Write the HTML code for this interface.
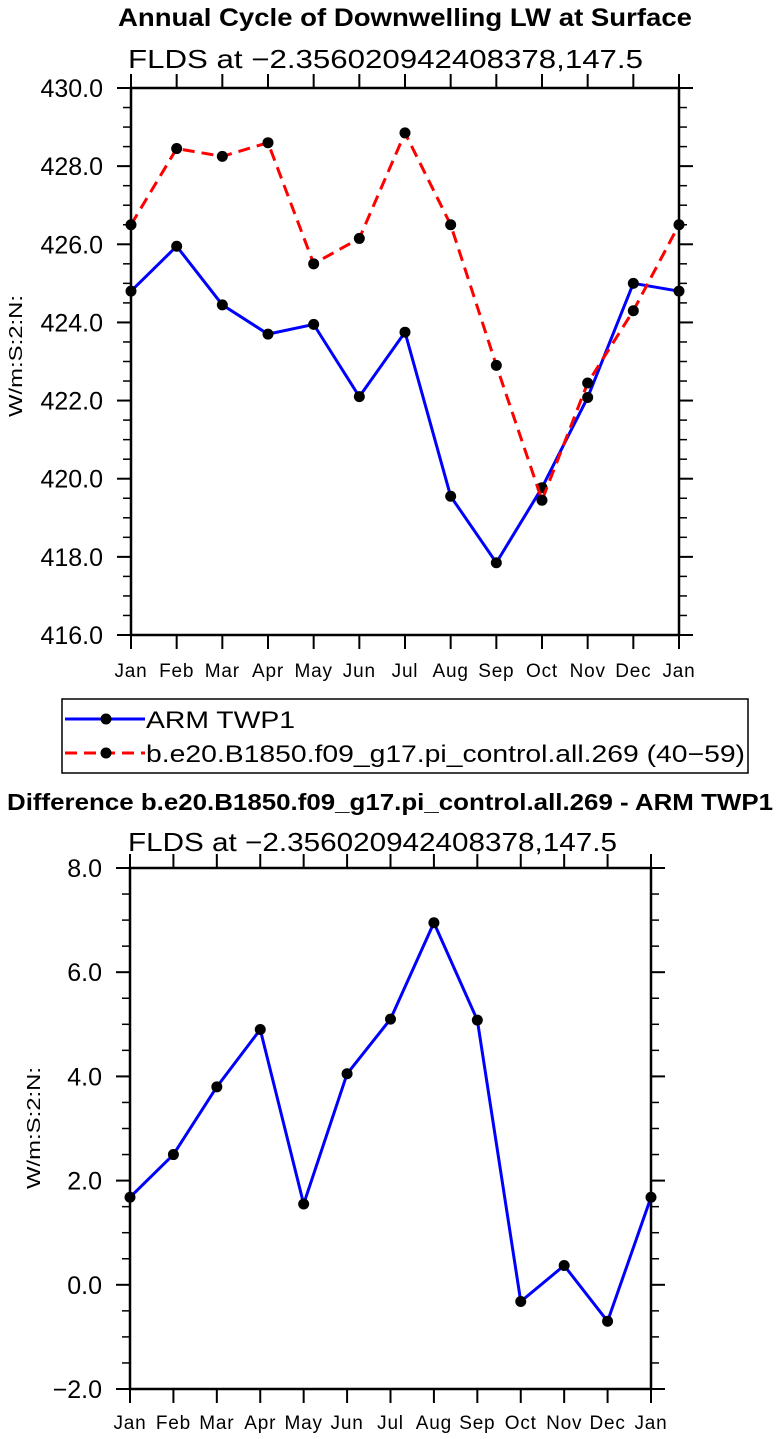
<!DOCTYPE html>
<html><head><meta charset="utf-8"><style>
body{margin:0;background:#fff;}
svg{display:block;font-family:"Liberation Sans","DejaVu Sans",sans-serif;}
</style></head><body>
<svg id="chart" width="780" height="1439" viewBox="0 0 780 1439">
<text x="118" y="26" font-size="25" font-weight="bold" textLength="574" lengthAdjust="spacingAndGlyphs">Annual Cycle of Downwelling LW at Surface</text>
<text x="128" y="68" font-size="26" textLength="515" lengthAdjust="spacingAndGlyphs">FLDS at −2.356020942408378,147.5</text>
<text transform="translate(22,356) rotate(-90)" text-anchor="middle" font-size="18" textLength="122" lengthAdjust="spacingAndGlyphs">W/m:S:2:N:</text>
<g>
<rect x="62" y="699" width="686" height="74" fill="none" stroke="#000" stroke-width="1.5"/>
<g>
<line x1="65" y1="719" x2="145" y2="719" stroke="#0000ff" stroke-width="3"/>
<circle cx="106" cy="719" r="5.5" fill="#000"/>
<text x="146" y="728" font-size="24" textLength="149" lengthAdjust="spacingAndGlyphs">ARM TWP1</text></g>
<g>
<line x1="65" y1="753" x2="145" y2="753" stroke="#ff0000" stroke-width="3" stroke-dasharray="12,7"/>
<circle cx="106" cy="753" r="5.5" fill="#000"/>
<text x="146" y="762" font-size="24" textLength="599" lengthAdjust="spacingAndGlyphs">b.e20.B1850.f09_g17.pi_control.all.269 (40−59)</text></g>
</g>
<text x="7" y="810" font-size="23" font-weight="bold" textLength="766" lengthAdjust="spacingAndGlyphs">Difference b.e20.B1850.f09_g17.pi_control.all.269 - ARM TWP1</text>
<text x="128" y="851" font-size="26" textLength="489" lengthAdjust="spacingAndGlyphs">FLDS at −2.356020942408378,147.5</text>
<text transform="translate(40,1128) rotate(-90)" text-anchor="middle" font-size="18" textLength="122" lengthAdjust="spacingAndGlyphs">W/m:S:2:N:</text>
</svg>
<script>
const months = ["Jan","Feb","Mar","Apr","May","Jun","Jul","Aug","Sep","Oct","Nov","Dec","Jan"];
const armValues = [424.8,425.95,424.45,423.7,423.95,422.1,423.75,419.55,417.85,419.77,422.08,425.0,424.8];
const modelValues = [426.5,428.45,428.25,428.6,425.5,426.15,428.85,426.5,422.9,419.45,422.45,424.3,426.5];
const diffValues = [1.68,2.5,3.8,4.9,1.55,4.05,5.1,6.95,5.08,-0.32,0.37,-0.7,1.68];
const topTicks = [416,418,420,422,424,426,428,430];
const bottomTicks = [-2,0,2,4,6,8];

const NS="http://www.w3.org/2000/svg";
const svg=document.getElementById('chart');
function mk(tag,attrs,parent){const e=document.createElementNS(NS,tag);for(const k in attrs)e.setAttribute(k,attrs[k]);(parent||svg).appendChild(e);return e;}

function drawPanel(name,L,R,T,B,ymin,ymax,ticks,minorStep,series,labelY){
  const g=mk('g',{});
  
  
  const xs=i=>L+(R-L)*i/(months.length-1);
  const ys=v=>B-(B-T)*(v-ymin)/(ymax-ymin);
  for(let v=ymin;v<=ymax+1e-9;v+=minorStep){
    const y=ys(v);
    mk('line',{x1:L-8,y1:y,x2:L,y2:y,stroke:'#000','stroke-width':1.5},g);
    mk('line',{x1:R,y1:y,x2:R+8,y2:y,stroke:'#000','stroke-width':1.5},g);
  }
  ticks.forEach(v=>{
    const y=ys(v);
    mk('line',{x1:L-14,y1:y,x2:L,y2:y,stroke:'#000','stroke-width':2},g);
    mk('line',{x1:R,y1:y,x2:R+14,y2:y,stroke:'#000','stroke-width':2},g);
    const t=mk('text',{x:L-28,y:y+9,'text-anchor':'end','font-size':25},g);
    t.textContent=(v<0?'−'+Math.abs(v).toFixed(1):v.toFixed(1));
    
    
  });
  months.forEach((m,i)=>{
    const x=xs(i);
    mk('line',{x1:x,y1:B,x2:x,y2:B+14,stroke:'#000','stroke-width':2},g);
    mk('line',{x1:x,y1:T-14,x2:x,y2:T,stroke:'#000','stroke-width':2},g);
    const t=mk('text',{x:x,y:labelY,'text-anchor':'middle','font-size':19,'letter-spacing':'0.8'},g);
    t.textContent=m;
    
    
  });
  const frame=mk('rect',{x:L,y:T,width:R-L,height:B-T,fill:'none',stroke:'#000','stroke-width':2.5},g);
  
  
  series.forEach(s=>{
    const pts=s.values.map((v,i)=>xs(i)+','+ys(v)).join(' ');
    const pl=mk('polyline',{points:pts,fill:'none',stroke:s.color,'stroke-width':3,'stroke-dasharray':s.dash||'none'},g);
    
    
    s.values.forEach((v,i)=>{
      const c=mk('circle',{cx:xs(i),cy:ys(v),r:5.5,fill:'#000'},g);
      
      
    });
  });
}
drawPanel('top',131,679,88,635,416,430,topTicks,0.5,[
  {name:'arm-twp1',values:armValues,color:'#0000ff'},
  {name:'model',values:modelValues,color:'#ff0000',dash:'12,7'}
],677);
drawPanel('bottom',130,651,868,1389,-2,8,bottomTicks,0.5,[
  {name:'difference',values:diffValues,color:'#0000ff'}
],1429);
</script>
</body></html>
